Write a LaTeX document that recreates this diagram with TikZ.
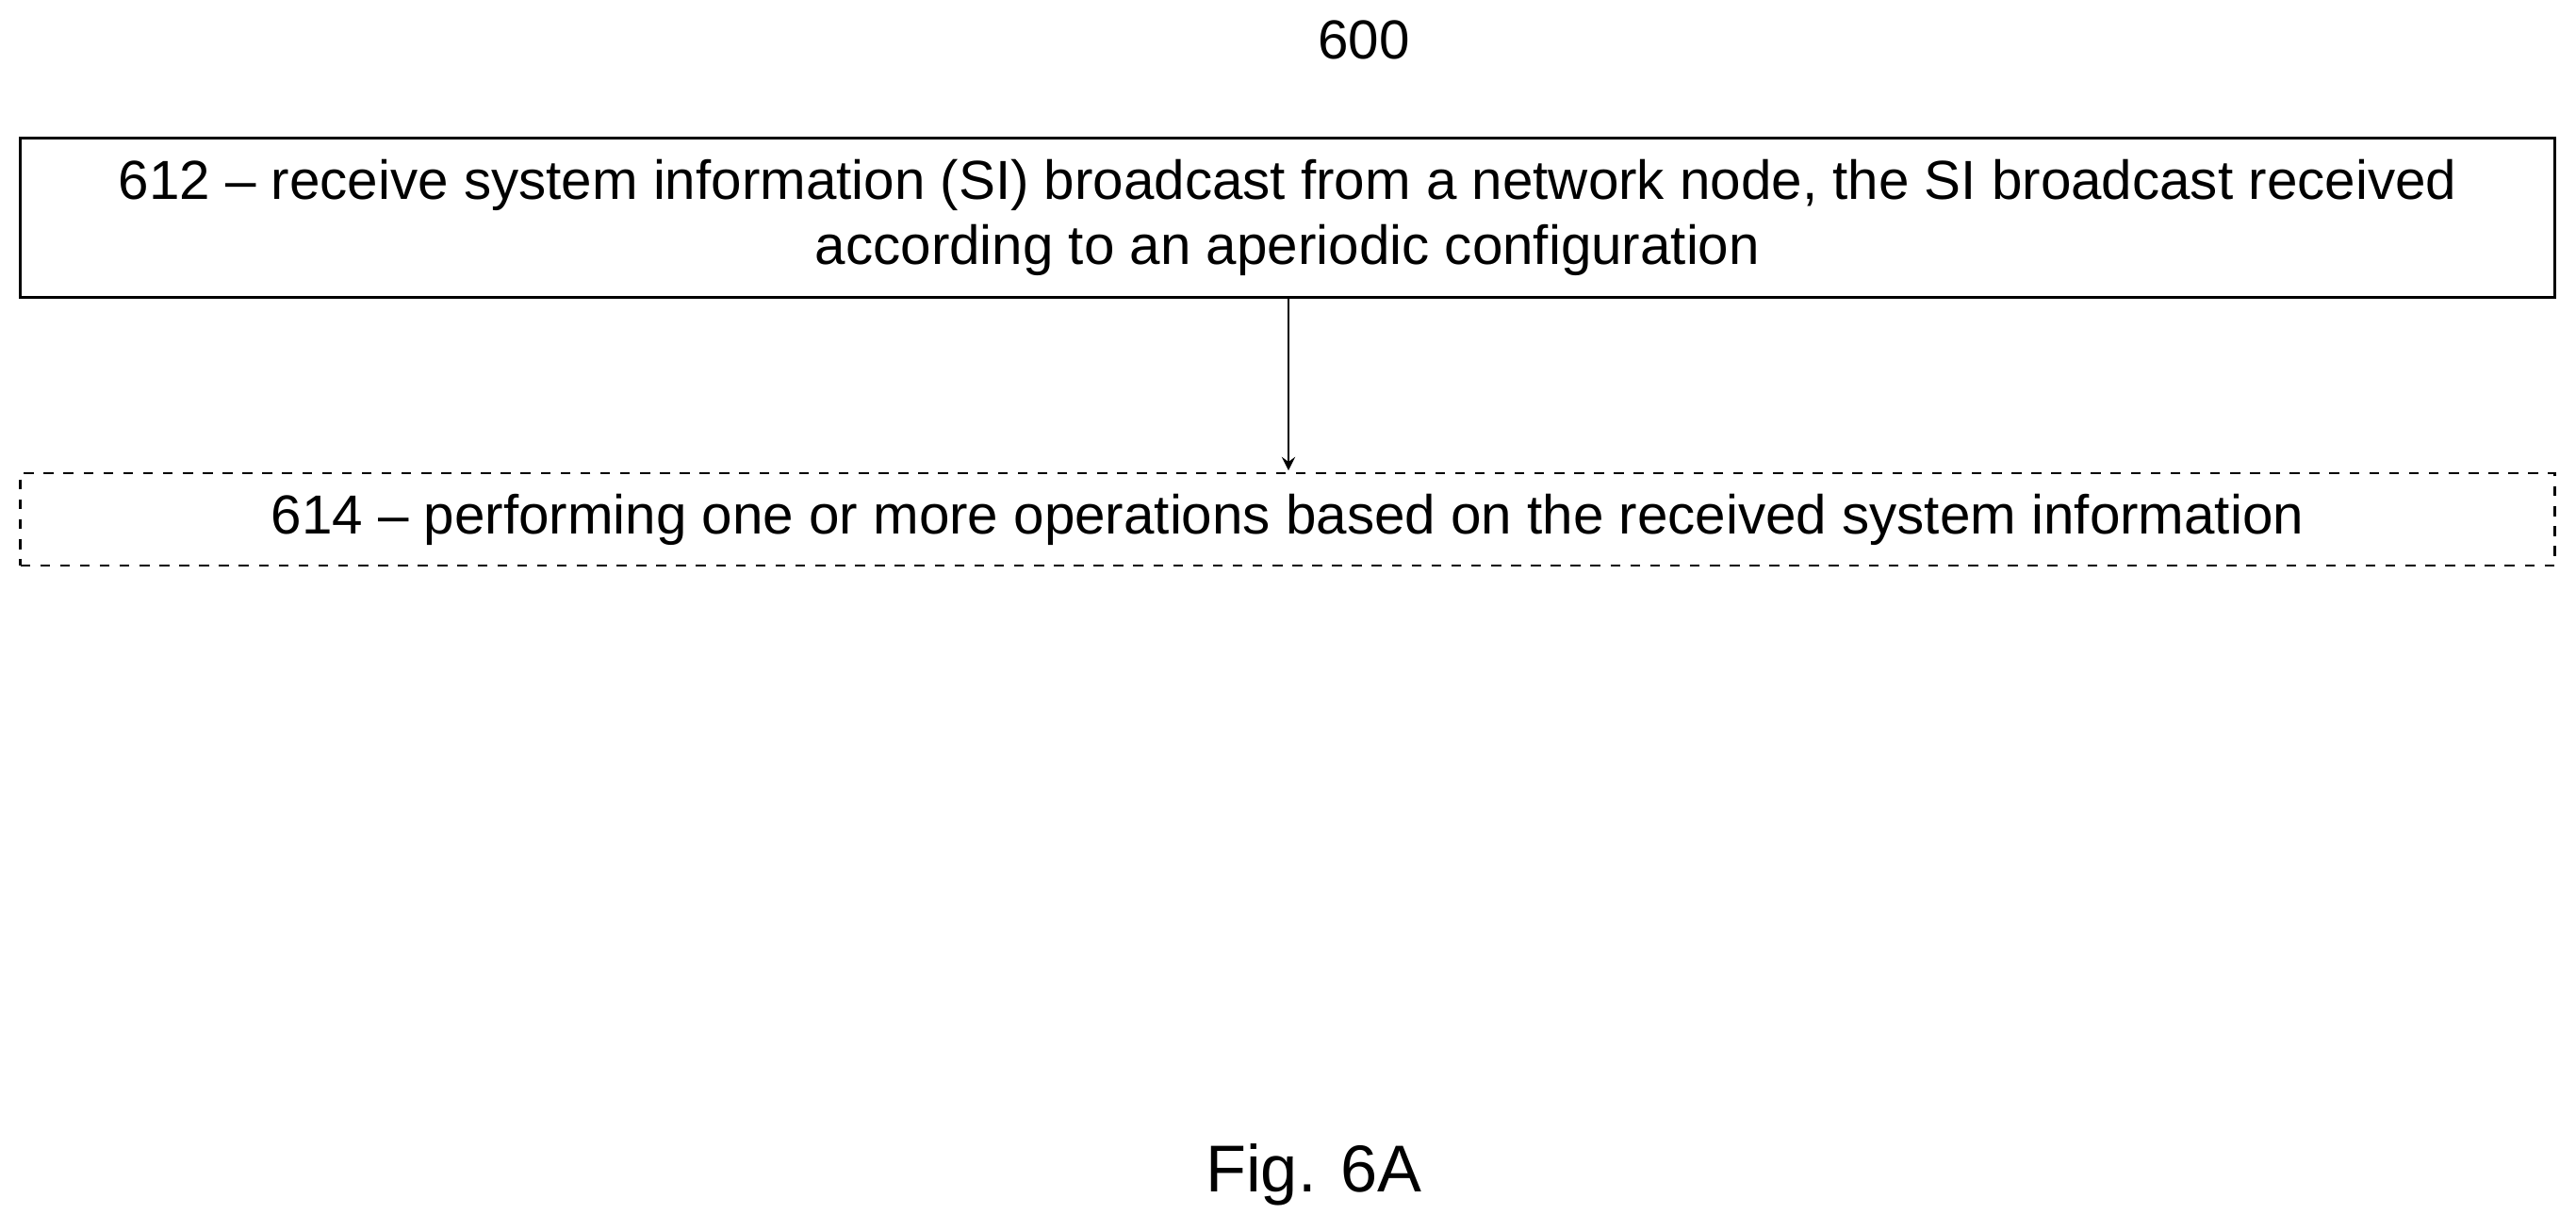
\documentclass[tikz,border=0pt]{standalone}
\usepackage{fontspec}
\setmainfont{Liberation Sans}
\usetikzlibrary{positioning}
\begin{document}
\begin{tikzpicture}[semithick,flowbox/.style ={draw,minimum width=26.89cm,align=center,font=\fontsize{16.6}{19.8}\selectfont}]
\useasboundingbox (0,0) rectangle (27.33,13.06);

\node[font=\fontsize{16.6}{19.8}\selectfont] (num) at (14.47,12.64) {600};
\node[flowbox,minimum height=1.69cm] (s612) at (13.66,10.75) {612 -- receive system information (SI) broadcast from a network node, the SI broadcast received\\according to an aperiodic configuration};
\node[flowbox,dashed,minimum height=0.98cm] (s614) at (13.66,7.55) {614 -- performing one or more operations based on the received system information};

\draw [thick,->,>=stealth,shorten >=0.5pt] (s612.south -| 13.67,0) -- (s614.north -| 13.67,0);

\node[font=\fontsize{20}{24}\selectfont] (fig) at (13.94,0.60) {Fig. 6A};
\end{tikzpicture}
\end{document}
